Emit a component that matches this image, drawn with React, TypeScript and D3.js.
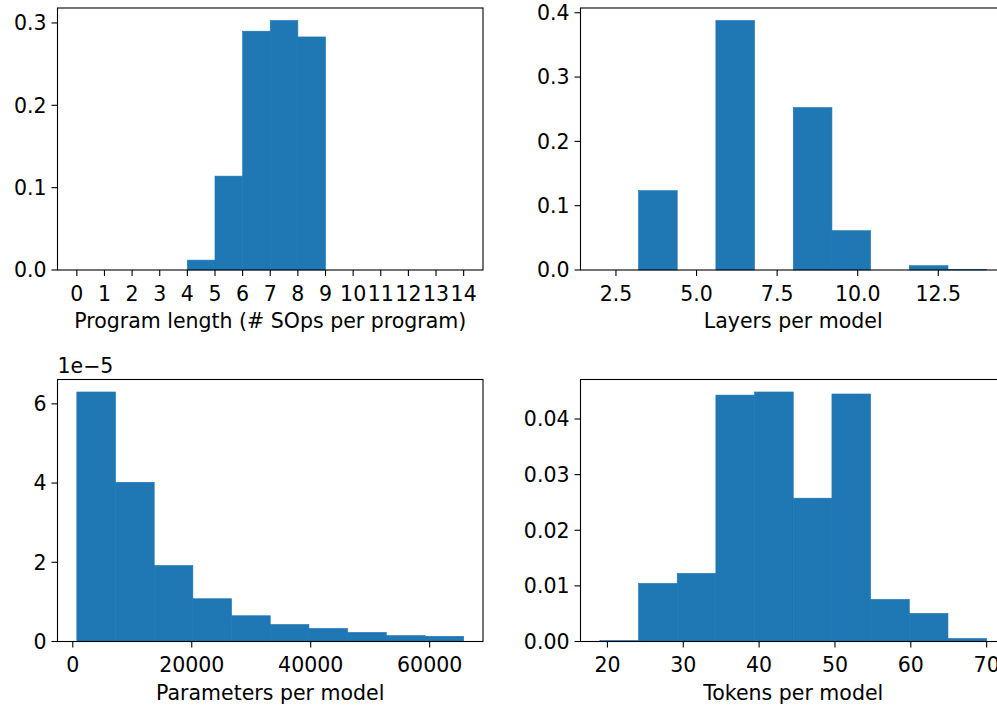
import * as d3 from 'd3';

// histogram 1: program length (density)
const progEdges = [0, 1, 2, 3, 4, 5, 6, 7, 8, 9, 10, 11, 12, 13, 14];
const progDensity = [0, 0, 0, 0, 0.012, 0.114, 0.29, 0.303, 0.283, 0, 0, 0, 0, 0];
const progTicks = [0, 1, 2, 3, 4, 5, 6, 7, 8, 9, 10, 11, 12, 13, 14];
const progYTicks = [0, 0.1, 0.2, 0.3];

// histogram 2: layers per model
const layerEdges = [2, 3.2, 4.4, 5.6, 6.8, 8.0, 9.2, 10.4, 11.6, 12.8, 14];
const layerDensity = [0, 0.1234, 0, 0.388, 0, 0.2526, 0.0612, 0, 0.0067, 0.001];
const layerTicks = [2.5, 5.0, 7.5, 10.0, 12.5];
const layerYTicks = [0, 0.1, 0.2, 0.3, 0.4];

// histogram 3: parameters per model (values in 1e-5)
const paramEdges = [678, 7182, 13686, 20190, 26694, 33198, 39702, 46206, 52710, 59214, 65718];
const paramDensity = [6.3, 4.02, 1.92, 1.08, 0.65, 0.43, 0.33, 0.23, 0.15, 0.13];
const paramTicks = [0, 20000, 40000, 60000];
const paramYTicks = [0, 2, 4, 6];

// histogram 4: tokens per model
const tokenEdges = [19, 24.1, 29.2, 34.3, 39.4, 44.5, 49.6, 54.7, 59.8, 64.9, 70];
const tokenDensity = [0.0002, 0.01045, 0.01225, 0.0443, 0.04486, 0.02577, 0.0445, 0.00757, 0.00505, 0.00054];
const tokenTicks = [20, 30, 40, 50, 60, 70];
const tokenYTicks = [0, 0.01, 0.02, 0.03, 0.04];

const FONT = 'DejaVu Sans';
const FS = 20.5;
const BLUE = '#1f77b4';

type PanelProps = {
  x: number;
  y: number;
  w: number;
  h: number;
  edges: number[];
  values: number[];
  xTicks: number[];
  yTicks: number[];
  xFmt: (v: number) => string;
  yFmt: (v: number) => string;
  label: string;
  offsetText?: string;
};

function Panel(p: PanelProps) {
  // 5% margins like matplotlib autoscale
  const lo = p.edges[0];
  const hi = p.edges[p.edges.length - 1];
  const pad = (hi - lo) * 0.05;
  const xs = d3.scaleLinear().domain([lo - pad, hi + pad]).range([0, p.w]);
  const ymax = d3.max(p.values)! * 1.05;
  const ys = d3.scaleLinear().domain([0, ymax]).range([p.h, 0]);
  const tick = 6;

  return (
    <g transform={`translate(${p.x},${p.y})`}>
      {p.values.map((v, i) =>
        v > 0 ? (
          <rect
            key={i}
            x={xs(p.edges[i])}
            width={xs(p.edges[i + 1]) - xs(p.edges[i])}
            y={ys(v)}
            height={ys(0) - ys(v)}
            fill={BLUE}
            stroke={BLUE}
            strokeWidth={0.6}
          />
        ) : null
      )}
      <rect x={0} y={0} width={p.w} height={p.h} fill="none" stroke="#000" strokeWidth={1.1} />
      {p.yTicks.map((t) => (
        <g key={'y' + t} transform={`translate(0,${ys(t)})`}>
          <line x1={-tick} x2={0} stroke="#000" strokeWidth={1.1} />
          <text x={-tick - 5} dy="0.36em" textAnchor="end" fontFamily={FONT} fontSize={FS}>
            {p.yFmt(t)}
          </text>
        </g>
      ))}
      {p.xTicks.map((t) => (
        <g key={'x' + t} transform={`translate(${xs(t)},${p.h})`}>
          <line y1={0} y2={tick} stroke="#000" strokeWidth={1.1} />
          <text y={30.5} textAnchor="middle" fontFamily={FONT} fontSize={FS}>
            {p.xFmt(t)}
          </text>
        </g>
      ))}
      <text x={p.w / 2} y={p.h + 58} textAnchor="middle" fontFamily={FONT} fontSize={FS}>
        {p.label}
      </text>
      {p.offsetText ? (
        <text x={0} y={-7} fontFamily={FONT} fontSize={FS}>
          {p.offsetText}
        </text>
      ) : null}
    </g>
  );
}

export default function App() {
  const W = 425.5;
  const H = 262;
  return (
    <svg
      width={997}
      height={709}
      style={{ position: 'absolute', left: 0, top: 0, background: '#fff' }}
    >
      <rect width={997} height={709} fill="#fff" />
      <Panel
        x={57.5}
        y={8}
        w={W}
        h={H}
        edges={progEdges}
        values={progDensity}
        xTicks={progTicks}
        yTicks={progYTicks}
        xFmt={(v) => String(v)}
        yFmt={d3.format('.1f')}
        label="Program length (# SOps per program)"
      />
      <Panel
        x={580.5}
        y={8}
        w={W}
        h={H}
        edges={layerEdges}
        values={layerDensity}
        xTicks={layerTicks}
        yTicks={layerYTicks}
        xFmt={d3.format('.1f')}
        yFmt={d3.format('.1f')}
        label="Layers per model"
      />
      <Panel
        x={57.5}
        y={379.5}
        w={W}
        h={H}
        edges={paramEdges}
        values={paramDensity}
        xTicks={paramTicks}
        yTicks={paramYTicks}
        xFmt={(v) => String(v)}
        yFmt={(v) => String(v)}
        label="Parameters per model"
        offsetText="1e−5"
      />
      <Panel
        x={580.5}
        y={379.5}
        w={W}
        h={H}
        edges={tokenEdges}
        values={tokenDensity}
        xTicks={tokenTicks}
        yTicks={tokenYTicks}
        xFmt={(v) => String(v)}
        yFmt={d3.format('.2f')}
        label="Tokens per model"
      />
    </svg>
  );
}
